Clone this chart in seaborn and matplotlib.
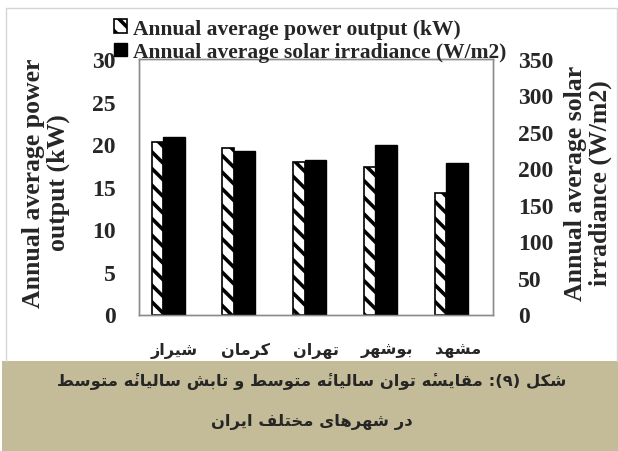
import numpy as np
import pandas as pd
import seaborn as sns
import matplotlib.pyplot as plt
from matplotlib.patches import Patch, Rectangle
from matplotlib.lines import Line2D

# ---- data
cities = ['شیراز', 'کرمان', 'تهران', 'بوشهر', 'مشهد']
power_kw = [20.2, 19.5, 17.9, 17.3, 14.3]
irradiance_wm2 = [243, 224, 211, 232, 208]
power_ticks = [0, 5, 10, 15, 20, 25, 30]
irradiance_ticks = [0, 50, 100, 150, 200, 250, 300, 350]
legend_labels = ['Annual average power output (kW)',
                 'Annual average solar irradiance (W/m2)']
left_label = 'Annual average power\noutput (kW)'
right_label = 'Annual average solar\nirradiance (W/m2)'
caption_lines = ['شکل (۹): مقایسۀ توان سالیانۀ متوسط و تابش سالیانۀ متوسط',
                 'در شهرهای مختلف ایران']

# ---- tiny Persian shaper (matplotlib has no bidi / joining support)
# letter: (isolated, final, initial, medial); right-joining letters have only 2 forms
FORMS = {
    'ا': ('\uFE8D', '\uFE8E'), 'د': ('\uFEA9', '\uFEAA'), 'ر': ('\uFEAD', '\uFEAE'),
    'ز': ('\uFEAF', '\uFEB0'), 'و': ('\uFEED', '\uFEEE'),
    'ۀ': ('\uFEE9\u0654', '\uFEEA\u0654'),  # heh + hamza above
    'ب': ('\uFE8F', '\uFE90', '\uFE91', '\uFE92'), 'ت': ('\uFE95', '\uFE96', '\uFE97', '\uFE98'),
    'خ': ('\uFEA5', '\uFEA6', '\uFEA7', '\uFEA8'), 'س': ('\uFEB1', '\uFEB2', '\uFEB3', '\uFEB4'),
    'ش': ('\uFEB5', '\uFEB6', '\uFEB7', '\uFEB8'), 'ط': ('\uFEC1', '\uFEC2', '\uFEC3', '\uFEC4'),
    'ف': ('\uFED1', '\uFED2', '\uFED3', '\uFED4'), 'ق': ('\uFED5', '\uFED6', '\uFED7', '\uFED8'),
    'ک': ('\uFB8E', '\uFB8F', '\uFB90', '\uFB91'), 'ل': ('\uFEDD', '\uFEDE', '\uFEDF', '\uFEE0'),
    'م': ('\uFEE1', '\uFEE2', '\uFEE3', '\uFEE4'), 'ن': ('\uFEE5', '\uFEE6', '\uFEE7', '\uFEE8'),
    'ه': ('\uFEE9', '\uFEEA', '\uFEEB', '\uFEEC'), 'ی': ('\uFBFC', '\uFBFD', '\uFBFE', '\uFBFF'),
}
MIRROR = {'(': ')', ')': '('}


def fa(text):
    out = []
    for i, ch in enumerate(text):
        if ch not in FORMS:
            out.append(MIRROR.get(ch, ch))
            continue
        f = FORMS[ch]
        prev = i > 0 and text[i - 1] in FORMS and len(FORMS[text[i - 1]]) == 4
        nxt = len(f) == 4 and i + 1 < len(text) and text[i + 1] in FORMS
        if prev and nxt:
            out.append(f[3])
        elif nxt:
            out.append(f[2])
        elif prev:
            out.append(f[1])
        else:
            out.append(f[0])
    return ''.join(out[::-1])


sns.set_style('white')
plt.rcParams['font.family'] = ['Liberation Serif']
plt.rcParams['font.weight'] = 'bold'
plt.rcParams['hatch.linewidth'] = 2.6
fa_font = ['DejaVu Sans Condensed', 'DejaVu Sans']

W, H = 618, 452
fig = plt.figure(figsize=(W / 100, H / 100), dpi=100)
fig.patch.set_facecolor('white')

# caption band and light frame
fig.add_artist(Rectangle((2 / W, 0), 1, 90 / H, transform=fig.transFigure,
                         facecolor='#c4bc98', edgecolor='none', zorder=-1))
frame = '#d6d6d6'
fig.add_artist(Line2D([6 / W, 6 / W], [90 / H, 1 - 9 / H], transform=fig.transFigure, color=frame, lw=1))
fig.add_artist(Line2D([6 / W, 617 / W], [1 - 9 / H, 1 - 9 / H], transform=fig.transFigure, color=frame, lw=1))
fig.add_artist(Line2D([617 / W, 617 / W], [90 / H, 1 - 9 / H], transform=fig.transFigure, color=frame, lw=1))

ax = fig.add_axes([139 / W, 1 - 315.5 / H, (493 - 139) / W, (315.5 - 60) / H])
ax2 = ax.twinx()

df = pd.DataFrame({'pos': np.arange(len(cities)), 'power': power_kw, 'irr': irradiance_wm2})

sns.barplot(x=df['pos'] - 0.24, y=df['power'], native_scale=True, orient='x', ax=ax,
            width=0.163, color='white', edgecolor='black', linewidth=1.2,
            hatch='\\\\', saturation=1, errorbar=None)
sns.barplot(x=df['pos'] - 0.008, y=df['irr'], native_scale=True, orient='x', ax=ax2,
            width=0.304, color='black', edgecolor='black', linewidth=1,
            saturation=1, errorbar=None)

for a in (ax, ax2):
    a.set_xlim(-0.5, len(cities) - 0.5)
    a.set_xlabel('')
    a.set_ylabel('')
    for s in a.spines.values():
        s.set_color('#8c8c8c')
        s.set_linewidth(1)
    a.grid(False)

ax.set_ylim(0, 30)
ax.set_yticks(power_ticks)
ax.tick_params(axis='y', length=0, pad=17, labelsize=17)
ax2.set_ylim(0, 350)
ax2.set_yticks(irradiance_ticks)
ax2.tick_params(axis='y', length=0, pad=18, labelsize=17)

ax.set_xticks(df['pos'])
ax.set_xticklabels([fa(c) for c in cities], family=fa_font, fontsize=11.5, fontweight='bold')
ax.tick_params(axis='x', length=0, pad=20)

fig.text(46 / W, 1 - 183 / H, left_label, rotation=90, ha='center', va='center',
         multialignment='center', fontsize=18.5, linespacing=1.05)
fig.text(588 / W, 1 - 183 / H, right_label, rotation=90, ha='center', va='center',
         multialignment='center', fontsize=18.5, linespacing=1.05)

handles = [Patch(facecolor='white', edgecolor='black', hatch='\\\\', linewidth=1.2),
           Patch(facecolor='black', edgecolor='black')]
fig.legend(handles, legend_labels, loc='upper left', bbox_to_anchor=(103 / W, 1 - 9 / H),
           frameon=False, fontsize=15.5, handlelength=0.6, handleheight=0.6,
           handletextpad=0.3, labelspacing=0.15, borderpad=0)

fig.text(312 / W, 1 - 382 / H, fa(caption_lines[0]), ha='center', va='center',
         family=fa_font, fontsize=11.8, fontweight='bold')
fig.text(312 / W, 1 - 422 / H, fa(caption_lines[1]), ha='center', va='center',
         family=fa_font, fontsize=11.8, fontweight='bold')

fig.savefig('out.png', dpi=100)
